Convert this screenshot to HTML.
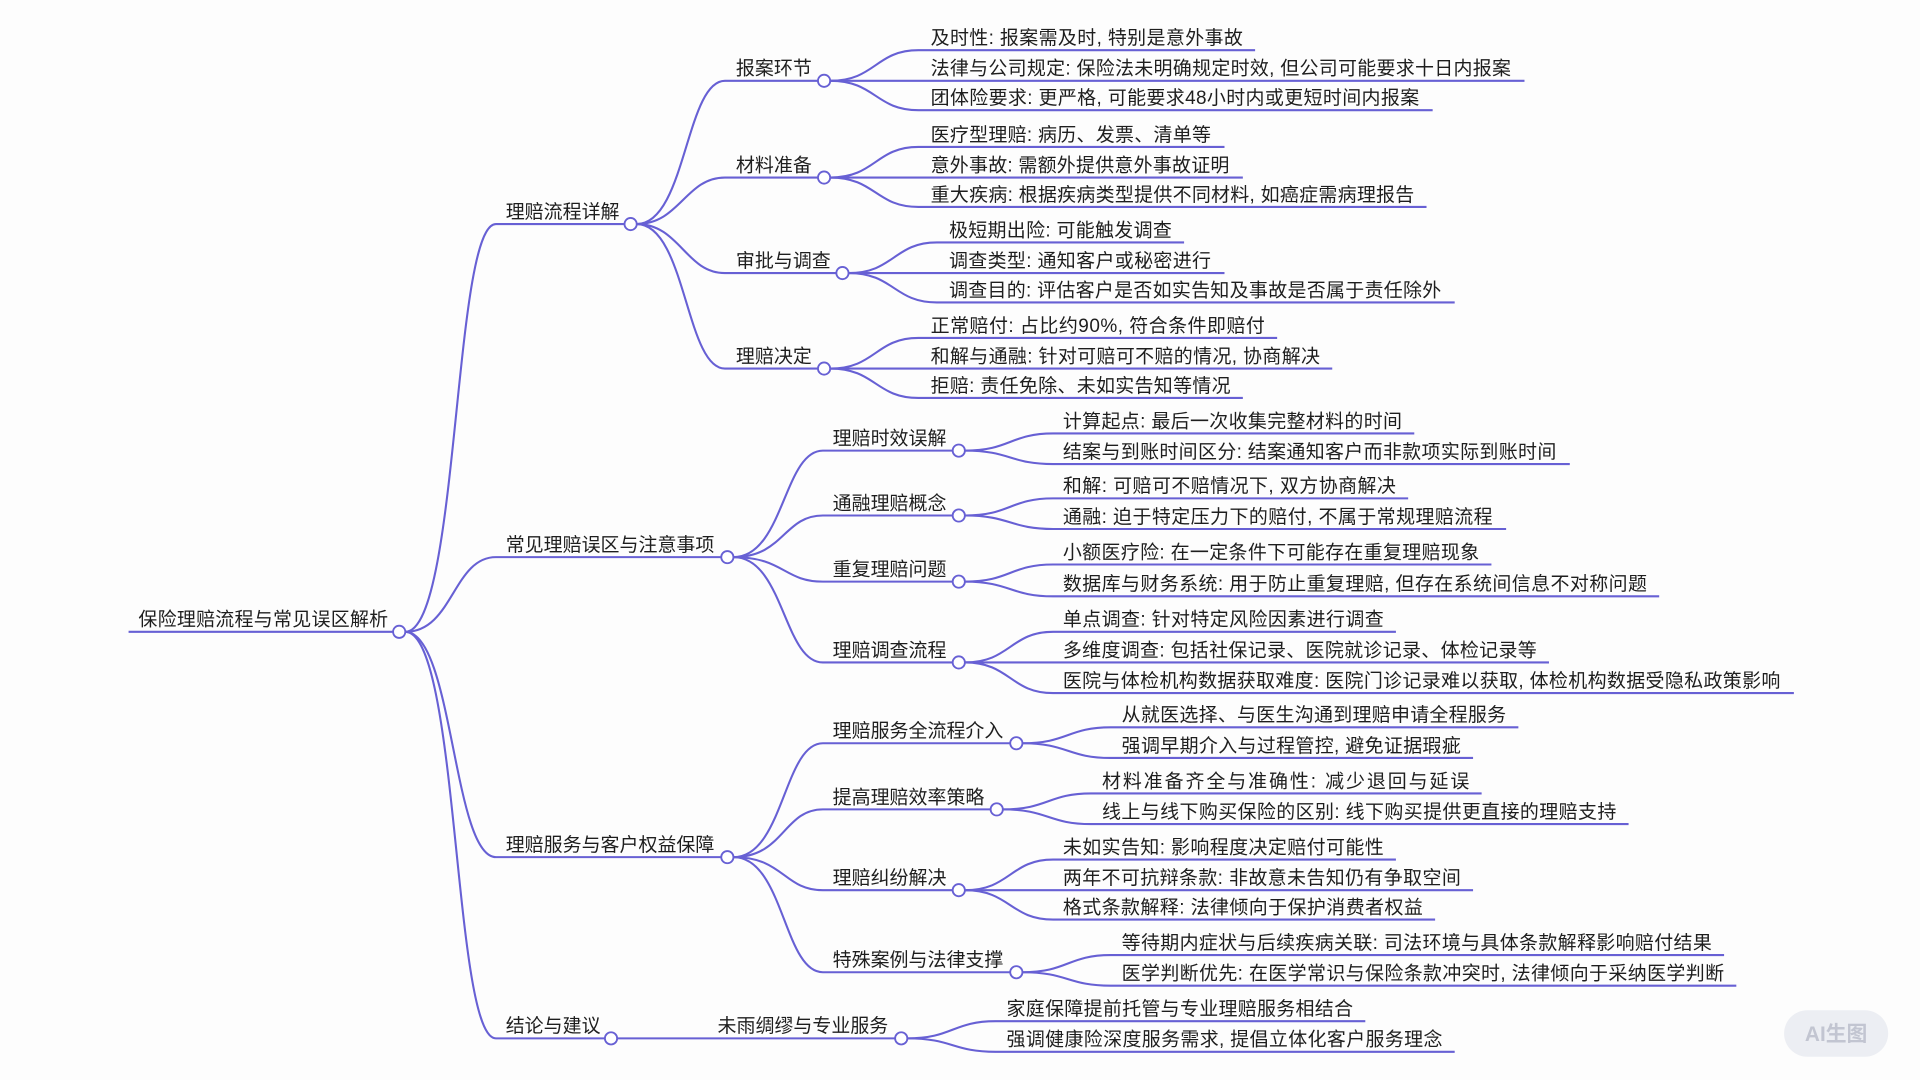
<!DOCTYPE html>
<html><head><meta charset="utf-8"><style>
html,body{margin:0;padding:0;background:#fdfdfd;}
svg{display:block}
text{font-family:"Liberation Sans","Noto Sans CJK SC",sans-serif;font-size:15.5px;fill:#1e1e1e;}
.l{fill:none;stroke:#6760d4;stroke-width:1.7}
.c{fill:#fff;stroke:#6760d4;stroke-width:1.5}
</style></head><body>
<svg width="1920" height="1080" viewBox="0 0 1568 882" xmlns="http://www.w3.org/2000/svg">
<rect width="1568" height="882" fill="#fdfdfd"/>
<!-- root -->
<path class="l" d="M105 516 H321"/>
<text x="113" y="511" textLength="204">保险理赔流程与常见误区解析</text>
<path class="l" d="M331 516 C375 516 370 183 405 183 H510"/>
<path class="l" d="M331 516 C370 516 370 455 405 455 H589"/>
<path class="l" d="M331 516 C370 516 370 700 405 700 H589"/>
<path class="l" d="M331 516 C375 516 370 848 405 848 H494"/>
<text x="413" y="178">理赔流程详解</text>
<text x="413" y="450">常见理赔误区与注意事项</text>
<text x="413" y="695">理赔服务与客户权益保障</text>
<text x="413" y="843">结论与建议</text>

<!-- L2 under 理赔流程详解 -->
<path class="l" d="M520 183 C560 183 560 66 592 66 H668"/>
<path class="l" d="M520 183 C555 183 560 145 592 145 H668"/>
<path class="l" d="M520 183 C555 183 560 223 592 223 H683"/>
<path class="l" d="M520 183 C560 183 560 301 592 301 H668"/>
<text x="601" y="61">报案环节</text>
<text x="601" y="140">材料准备</text>
<text x="601" y="218">审批与调查</text>
<text x="601" y="296">理赔决定</text>

<!-- L2 under 常见 -->
<path class="l" d="M599 455 C640 455 640 368 672 368 H778"/>
<path class="l" d="M599 455 C640 455 640 421 672 421 H778"/>
<path class="l" d="M599 455 C640 455 640 475 672 475 H778"/>
<path class="l" d="M599 455 C640 455 640 541 672 541 H778"/>
<text x="680" y="363">理赔时效误解</text>
<text x="680" y="416">通融理赔概念</text>
<text x="680" y="470">重复理赔问题</text>
<text x="680" y="536">理赔调查流程</text>

<!-- L2 under 理赔服务 -->
<path class="l" d="M599 700 C640 700 640 607 672 607 H825"/>
<path class="l" d="M599 700 C640 700 640 661 672 661 H809"/>
<path class="l" d="M599 700 C640 700 640 727 672 727 H778"/>
<path class="l" d="M599 700 C640 700 640 794 672 794 H825"/>
<text x="680" y="602">理赔服务全流程介入</text>
<text x="680" y="656">提高理赔效率策略</text>
<text x="680" y="722">理赔纠纷解决</text>
<text x="680" y="789">特殊案例与法律支撑</text>

<!-- L2 under 结论 -->
<path class="l" d="M504 848 H731"/>
<text x="586" y="843">未雨绸缪与专业服务</text>

<!-- leaves 报案环节 -->
<path class="l" d="M678 66 C715 66 715 41 750 41 H1025"/>
<path class="l" d="M678 66 H1245"/>
<path class="l" d="M678 66 C715 66 715 90 750 90 H1170"/>
<text x="760" y="36" textLength="255">及时性: 报案需及时, 特别是意外事故</text>
<text x="760" y="61" textLength="474">法律与公司规定: 保险法未明确规定时效, 但公司可能要求十日内报案</text>
<text x="760" y="85" textLength="399">团体险要求: 更严格, 可能要求48小时内或更短时间内报案</text>
<!-- 材料准备 -->
<path class="l" d="M678 145 C715 145 715 120 750 120 H1000"/>
<path class="l" d="M678 145 H1015"/>
<path class="l" d="M678 145 C715 145 715 169 750 169 H1165"/>
<text x="760" y="115" textLength="229">医疗型理赔: 病历、发票、清单等</text>
<text x="760" y="140" textLength="244">意外事故: 需额外提供意外事故证明</text>
<text x="760" y="164" textLength="395">重大疾病: 根据疾病类型提供不同材料, 如癌症需病理报告</text>
<!-- 审批与调查 -->
<path class="l" d="M693 223 C730 223 730 198 765 198 H967"/>
<path class="l" d="M693 223 H1000"/>
<path class="l" d="M693 223 C730 223 730 247 765 247 H1188"/>
<text x="775" y="193" textLength="182">极短期出险: 可能触发调查</text>
<text x="775" y="218" textLength="214">调查类型: 通知客户或秘密进行</text>
<text x="775" y="242" textLength="402">调查目的: 评估客户是否如实告知及事故是否属于责任除外</text>
<!-- 理赔决定 -->
<path class="l" d="M678 301 C715 301 715 276 750 276 H1043"/>
<path class="l" d="M678 301 H1088"/>
<path class="l" d="M678 301 C715 301 715 325 750 325 H1015"/>
<text x="760" y="271" textLength="273">正常赔付: 占比约90%, 符合条件即赔付</text>
<text x="760" y="296" textLength="318">和解与通融: 针对可赔可不赔的情况, 协商解决</text>
<text x="760" y="320" textLength="245">拒赔: 责任免除、未如实告知等情况</text>

<!-- 理赔时效误解 -->
<path class="l" d="M788 368 C825 368 825 354 860 354 H1155"/>
<path class="l" d="M788 368 C825 368 825 379 860 379 H1282"/>
<text x="868" y="349" textLength="277">计算起点: 最后一次收集完整材料的时间</text>
<text x="868" y="374" textLength="403">结案与到账时间区分: 结案通知客户而非款项实际到账时间</text>
<!-- 通融 -->
<path class="l" d="M788 421 C825 421 825 407 860 407 H1150"/>
<path class="l" d="M788 421 C825 421 825 432 860 432 H1230"/>
<text x="868" y="402" textLength="272">和解: 可赔可不赔情况下, 双方协商解决</text>
<text x="868" y="427" textLength="351">通融: 迫于特定压力下的赔付, 不属于常规理赔流程</text>
<!-- 重复 -->
<path class="l" d="M788 475 C825 475 825 461 860 461 H1218"/>
<path class="l" d="M788 475 C825 475 825 487 860 487 H1355"/>
<text x="868" y="456" textLength="340">小额医疗险: 在一定条件下可能存在重复理赔现象</text>
<text x="868" y="482" textLength="477">数据库与财务系统: 用于防止重复理赔, 但存在系统间信息不对称问题</text>
<!-- 调查流程 -->
<path class="l" d="M788 541 C825 541 825 516 860 516 H1140"/>
<path class="l" d="M788 541 H1265"/>
<path class="l" d="M788 541 C825 541 825 566 860 566 H1465"/>
<text x="868" y="511" textLength="262">单点调查: 针对特定风险因素进行调查</text>
<text x="868" y="536" textLength="387">多维度调查: 包括社保记录、医院就诊记录、体检记录等</text>
<text x="868" y="561" textLength="586">医院与体检机构数据获取难度: 医院门诊记录难以获取, 体检机构数据受隐私政策影响</text>

<!-- 全流程介入 -->
<path class="l" d="M835 607 C872 607 872 594 907 594 H1240"/>
<path class="l" d="M835 607 C872 607 872 619 907 619 H1203"/>
<text x="916" y="589" textLength="314">从就医选择、与医生沟通到理赔申请全程服务</text>
<text x="916" y="614" textLength="277">强调早期介入与过程管控, 避免证据瑕疵</text>
<!-- 效率 -->
<path class="l" d="M819 661 C856 661 856 648 891 648 H1210"/>
<path class="l" d="M819 661 C856 661 856 673 891 673 H1330"/>
<text x="900" y="643" textLength="300">材料准备齐全与准确性: 减少退回与延误</text>
<text x="900" y="668" textLength="420">线上与线下购买保险的区别: 线下购买提供更直接的理赔支持</text>
<!-- 纠纷 -->
<path class="l" d="M788 727 C825 727 825 702 860 702 H1140"/>
<path class="l" d="M788 727 H1203"/>
<path class="l" d="M788 727 C825 727 825 751 860 751 H1172"/>
<text x="868" y="697" textLength="262">未如实告知: 影响程度决定赔付可能性</text>
<text x="868" y="722" textLength="325">两年不可抗辩条款: 非故意未告知仍有争取空间</text>
<text x="868" y="746" textLength="294">格式条款解释: 法律倾向于保护消费者权益</text>
<!-- 特殊案例 -->
<path class="l" d="M835 794 C872 794 872 780 907 780 H1408"/>
<path class="l" d="M835 794 C872 794 872 805 907 805 H1418"/>
<text x="916" y="775" textLength="482">等待期内症状与后续疾病关联: 司法环境与具体条款解释影响赔付结果</text>
<text x="916" y="800" textLength="492">医学判断优先: 在医学常识与保险条款冲突时, 法律倾向于采纳医学判断</text>
<!-- 结论 -->
<path class="l" d="M741 848 C778 848 778 834 813 834 H1115"/>
<path class="l" d="M741 848 C778 848 778 859 813 859 H1188"/>
<text x="822" y="829" textLength="283">家庭保障提前托管与专业理赔服务相结合</text>
<text x="822" y="854" textLength="356">强调健康险深度服务需求, 提倡立体化客户服务理念</text>

<!-- circles -->
<circle class="c" cx="326" cy="516" r="5"/>
<circle class="c" cx="515" cy="183" r="5"/>
<circle class="c" cx="594" cy="455" r="5"/>
<circle class="c" cx="594" cy="700" r="5"/>
<circle class="c" cx="499" cy="848" r="5"/>
<circle class="c" cx="673" cy="66" r="5"/>
<circle class="c" cx="673" cy="145" r="5"/>
<circle class="c" cx="688" cy="223" r="5"/>
<circle class="c" cx="673" cy="301" r="5"/>
<circle class="c" cx="783" cy="368" r="5"/>
<circle class="c" cx="783" cy="421" r="5"/>
<circle class="c" cx="783" cy="475" r="5"/>
<circle class="c" cx="783" cy="541" r="5"/>
<circle class="c" cx="830" cy="607" r="5"/>
<circle class="c" cx="814" cy="661" r="5"/>
<circle class="c" cx="783" cy="727" r="5"/>
<circle class="c" cx="830" cy="794" r="5"/>
<circle class="c" cx="736" cy="848" r="5"/>

<!-- watermark -->
<rect x="1457" y="825" width="85" height="38" rx="19" fill="#eceef3"/>
<text x="1499.5" y="850" text-anchor="middle" style="font-size:17px;fill:#c2c5d1;font-weight:bold">AI生图</text>
</svg>
</body></html>
